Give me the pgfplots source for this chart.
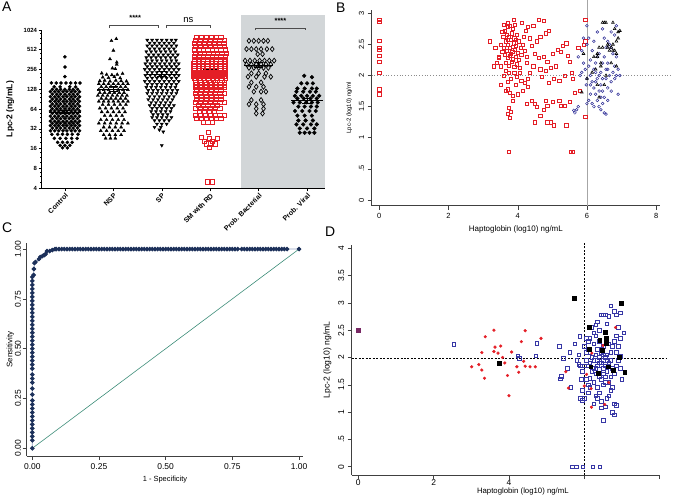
\documentclass[border=0pt]{standalone}
\usepackage{pgfplots}
\pgfplotsset{compat=1.18}
\usepackage{fontspec}
\setmainfont{Liberation Sans}
\definecolor{smred}{RGB}{228,30,38}
\definecolor{bblue}{RGB}{45,45,150}
\definecolor{dblue}{RGB}{55,55,165}
\definecolor{rocnavy}{RGB}{28,48,90}
\definecolor{rocline}{RGB}{150,165,195}
\definecolor{diag}{RGB}{60,140,120}
\definecolor{panelgray}{RGB}{210,214,216}
\definecolor{purp}{RGB}{120,40,100}
\newcommand\fs[1]{\fontsize{#1}{#1}\selectfont}
\pgfplotsset{every axis/.append style={/pgf/number format/assume math mode=true}}
\begin{document}
\begin{tikzpicture}
\useasboundingbox (0bp,0bp) rectangle (673bp,499bp);
\node[anchor=north west,inner sep=0,font=\fs{14}] at (2bp,497bp) {A};
\node[anchor=north west,inner sep=0,font=\fs{14}] at (336bp,496bp) {B};
\node[anchor=north west,inner sep=0,font=\fs{14}] at (2bp,276bp) {C};
\node[anchor=north west,inner sep=0,font=\fs{14}] at (325bp,272bp) {D};

% ---------------- Panel A ----------------
\begin{axis}[at={(41.7bp,310.7bp)},anchor=south west,scale only axis,
  width=283.3bp,height=158.3bp,
  ymode=log,log basis y=2,ymin=4,ymax=1024,xmin=-0.48,xmax=5.37,
  axis lines=left,axis line style={-,line width=0.8pt},axis on top,clip=false,
  ytick={4,8,16,32,64,128,256,512,1024},
  yticklabels={4,8,16,32,64,128,256,512,1024},
  extra y ticks={5,6,7,10,12,14,20,24,28,40,48,56,80,96,112,160,192,224,320,384,448,640,768,896},
  extra y tick labels={},
  extra y tick style={major tick length=1.5bp},
  xtick={0,1,2,3,4,5},
  xticklabels={Control,NSP,SP,SM with RD,Prob. Bacterial,Prob. Viral},
  xticklabel style={rotate=45,anchor=north east,font=\fs{7}\bfseries,inner sep=1pt},
  yticklabel style={font=\fs{6}\bfseries,inner sep=1.5pt},
  tick align=outside,major tick length=3bp,
  tick style={black,line width=0.6pt},
  ylabel={Lpc-2 (ng/mL)},ylabel style={font=\fs{8.5}\bfseries},
]
\fill[panelgray] (axis cs:3.63,4) rectangle (axis cs:5.37,1734);
% Control
\addplot[only marks,mark=*,mark size=1.6,black] coordinates {
(0,400)(0,280)(0,200)
(-0.28,160)(-0.18,160)(-0.08,160)(0.02,160)(0.12,160)(0.22,160)(0.31,160)
(-0.22,140)(-0.1,140)(0.1,140)(0.22,140)
(-0.26,128)(-0.17,128)(-0.09,128)(0,128)(0.09,128)(0.17,128)(0.26,128)
(-0.3,118)(-0.21,118)(-0.13,118)(-0.04,118)(0.04,118)(0.13,118)(0.21,118)(0.3,118)
(-0.26,108)(-0.17,108)(-0.09,108)(0,108)(0.09,108)(0.17,108)(0.26,108)
(-0.3,99)(-0.21,99)(-0.13,99)(-0.04,99)(0.04,99)(0.13,99)(0.21,99)(0.3,99)
(-0.26,91)(-0.17,91)(-0.09,91)(0,91)(0.09,91)(0.17,91)(0.26,91)
(-0.3,84)(-0.21,84)(-0.13,84)(-0.04,84)(0.04,84)(0.13,84)(0.21,84)(0.3,84)
(-0.26,77)(-0.17,77)(-0.09,77)(0,77)(0.09,77)(0.17,77)(0.26,77)
(-0.3,71)(-0.21,71)(-0.13,71)(-0.04,71)(0.04,71)(0.13,71)(0.21,71)(0.3,71)
(-0.26,65)(-0.17,65)(-0.09,65)(0,65)(0.09,65)(0.17,65)(0.26,65)
(-0.3,60)(-0.21,60)(-0.13,60)(-0.04,60)(0.04,60)(0.13,60)(0.21,60)(0.3,60)
(-0.26,55)(-0.17,55)(-0.09,55)(0,55)(0.09,55)(0.17,55)(0.26,55)
(-0.3,50)(-0.21,50)(-0.13,50)(-0.04,50)(0.04,50)(0.13,50)(0.21,50)(0.3,50)
(-0.26,46)(-0.17,46)(-0.09,46)(0,46)(0.09,46)(0.17,46)(0.26,46)
(-0.3,42)(-0.21,42)(-0.13,42)(-0.04,42)(0.04,42)(0.13,42)(0.21,42)(0.3,42)
(-0.26,39)(-0.17,39)(-0.09,39)(0,39)(0.09,39)(0.17,39)(0.26,39)
(-0.3,36)(-0.21,36)(-0.13,36)(-0.04,36)(0.04,36)(0.13,36)(0.21,36)(0.3,36)
(-0.26,33)(-0.17,33)(-0.09,33)(0,33)(0.09,33)(0.17,33)(0.26,33)
(-0.3,30)(-0.21,30)(-0.13,30)(-0.04,30)(0.04,30)(0.13,30)(0.21,30)(0.3,30)
(-0.27,26.5)(-0.15,26.5)(-0.05,26.5)(0.05,26.5)(0.15,26.5)(0.27,26.5)
(-0.22,23)(-0.1,23)(0.02,23)(0.14,23)(0.25,23)
(-0.15,20)(-0.05,20)(0.05,20)(0.15,20)
(-0.1,18)(0,18)(0.1,18)
(-0.05,16.5)(0.05,16.5)
};
% NSP
\addplot[only marks,mark=triangle*,mark size=1.8,black] coordinates {
(1.06,750)(0.96,700)(1.0,500)(0.93,370)(1.07,330)(1.07,305)(0.98,268)(1.04,262)
(0.76,225)(0.86,215)(0.97,212)(1.08,215)(1.19,222)
(0.78,195)(0.9,192)(1.02,198)(1.14,190)
(0.72,172)(0.82,175)(0.93,170)(1.05,175)(1.16,172)(1.27,170)
(0.7,155)(0.8,155)(0.9,155)(1.0,155)(1.1,155)(1.2,155)(1.3,155)
(0.75,140)(0.85,140)(0.95,140)(1.05,140)(1.15,140)(1.25,140)
(0.7,126)(0.8,126)(0.9,126)(1.1,126)(1.2,126)(1.3,126)
(0.72,114)(0.82,114)(0.92,114)(1.02,114)(1.12,114)(1.22,114)
(0.68,103)(0.78,103)(0.88,103)(0.98,103)(1.08,103)(1.18,103)(1.28,103)
(0.75,93)(0.85,93)(0.95,93)(1.05,93)(1.15,93)(1.25,93)
(0.7,84)(0.8,84)(0.9,84)(1.0,84)(1.1,84)(1.2,84)(1.3,84)
(0.78,75)(0.9,75)(1.02,75)(1.14,75)(1.26,75)
(0.72,66)(0.84,66)(0.96,66)(1.08,66)(1.2,66)
(0.76,58)(0.88,58)(1.0,58)(1.12,58)(1.24,58)
(0.82,51)(0.94,51)(1.06,51)(1.18,51)
(0.74,44)(0.86,44)(0.98,44)(1.1,44)(1.22,44)
(0.7,39)(0.82,39)(0.94,39)(1.06,39)(1.18,39)(1.3,39)
(0.8,34)(0.92,34)(1.04,34)(1.16,34)
(0.74,30)(0.86,30)(0.98,30)(1.1,30)(1.22,30)
(0.8,26)(0.92,26)(1.04,26)(1.16,26)
(0.84,23)(0.94,23)(1.04,23)
};
% SP
\addplot[only marks,mark=triangle*,mark size=1.8,black,mark options={rotate=180}] coordinates {
(1.7,720)(1.8,720)(1.9,720)(2.0,720)(2.1,720)(2.2,720)(2.29,720)
(1.75,650)(1.85,650)(1.95,650)(2.05,650)(2.15,650)(2.25,650)
(1.7,590)(1.8,590)(1.9,590)(2.0,590)(2.1,590)(2.2,590)(2.3,590)
(1.75,530)(1.85,530)(1.95,530)(2.05,530)(2.15,530)(2.25,530)
(1.68,480)(1.78,480)(1.88,480)(1.98,480)(2.08,480)(2.18,480)(2.28,480)
(1.73,430)(1.83,430)(1.93,430)(2.03,430)(2.13,430)(2.23,430)(2.33,430)
(1.68,390)(1.78,390)(1.88,390)(1.98,390)(2.08,390)(2.18,390)(2.28,390)
(1.7,350)(1.8,350)(1.9,350)(2.0,350)(2.1,350)(2.2,350)(2.3,350)
(1.66,315)(1.76,315)(1.86,315)(1.96,315)(2.06,315)(2.16,315)(2.26,315)(2.35,315)
(1.7,285)(1.8,285)(1.9,285)(2.0,285)(2.1,285)(2.2,285)(2.3,285)
(1.65,258)(1.75,258)(1.85,258)(1.95,258)(2.05,258)(2.15,258)(2.25,258)(2.35,258)
(1.7,232)(1.8,232)(1.9,232)(2.0,232)(2.1,232)(2.2,232)(2.3,232)
(1.66,210)(1.76,210)(1.86,210)(1.96,210)(2.06,210)(2.16,210)(2.26,210)(2.35,210)
(1.7,190)(1.8,190)(1.9,190)(2.0,190)(2.1,190)(2.2,190)(2.3,190)
(1.65,170)(1.75,170)(1.85,170)(1.95,170)(2.05,170)(2.15,170)(2.25,170)(2.35,170)
(1.7,153)(1.8,153)(1.9,153)(2.0,153)(2.1,153)(2.2,153)(2.3,153)
(1.68,138)(1.78,138)(1.88,138)(1.98,138)(2.08,138)(2.18,138)(2.28,138)
(1.72,124)(1.82,124)(1.92,124)(2.02,124)(2.12,124)(2.22,124)(2.32,124)
(1.7,112)(1.8,112)(1.9,112)(2.0,112)(2.1,112)(2.2,112)(2.3,112)
(1.75,100)(1.85,100)(1.95,100)(2.05,100)(2.15,100)(2.25,100)
(1.72,90)(1.82,90)(1.92,90)(2.02,90)(2.12,90)(2.22,90)
(1.78,81)(1.88,81)(1.98,81)(2.08,81)(2.18,81)
(1.75,73)(1.85,73)(1.95,73)(2.05,73)(2.15,73)(2.25,73)
(1.8,66)(1.9,66)(2.0,66)(2.1,66)(2.2,66)
(1.78,59)(1.88,59)(1.98,59)(2.08,59)(2.18,59)
(1.82,53)(1.92,53)(2.02,53)(2.12,53)
(1.8,48)(1.9,48)(2.0,48)(2.1,48)(2.2,48)
(1.85,43)(1.95,43)(2.05,43)(2.15,43)
(1.9,38)(2.0,38)(2.1,38)
(1.85,34)(1.98,34)(1.95,31)(2.03,29)(2.0,18)
};
% SM with RD
\addplot[only marks,mark=square,mark size=2.1,smred,line width=0.7pt] coordinates {
(2.72,800)(2.82,800)(2.92,800)(3.02,800)(3.12,800)(3.22,800)
(2.7,720)(2.8,720)(2.9,720)(3.0,720)(3.1,720)(3.2,720)(3.3,720)
(2.68,640)(2.78,640)(2.88,640)(2.98,640)(3.08,640)(3.18,640)(3.28,640)
(2.7,570)(2.8,570)(2.9,570)(3.0,570)(3.1,570)(3.2,570)(3.3,570)
(2.68,510)(2.77,510)(2.86,510)(2.95,510)(3.04,510)(3.13,510)(3.22,510)(3.31,510)
(2.7,455)(2.79,455)(2.88,455)(2.97,455)(3.06,455)(3.15,455)(3.24,455)(3.33,455)
(2.68,410)(2.77,410)(2.86,410)(2.95,410)(3.04,410)(3.13,410)(3.22,410)(3.31,410)
(2.67,370)(2.76,370)(2.85,370)(2.94,370)(3.03,370)(3.12,370)(3.21,370)(3.3,370)
(2.68,340)(2.77,340)(2.86,340)(2.95,340)(3.04,340)(3.13,340)(3.22,340)(3.31,340)
(2.66,312)(2.75,312)(2.84,312)(2.93,312)(3.02,312)(3.11,312)(3.2,312)(3.29,312)
(2.68,288)(2.77,288)(2.86,288)(2.95,288)(3.04,288)(3.13,288)(3.22,288)(3.31,288)
(2.66,268)(2.75,268)(2.84,268)(2.93,268)(3.02,268)(3.11,268)(3.2,268)(3.29,268)
(2.68,250)(2.77,250)(2.86,250)(2.95,250)(3.04,250)(3.13,250)(3.22,250)(3.31,250)
(2.66,234)(2.75,234)(2.84,234)(2.93,234)(3.02,234)(3.11,234)(3.2,234)(3.29,234)
(2.68,220)(2.77,220)(2.86,220)(2.95,220)(3.04,220)(3.13,220)(3.22,220)(3.31,220)
(2.66,206)(2.75,206)(2.84,206)(2.93,206)(3.02,206)(3.11,206)(3.2,206)(3.29,206)
(2.68,192)(2.77,192)(2.86,192)(2.95,192)(3.04,192)(3.13,192)(3.22,192)(3.31,192)
(2.7,178)(2.79,178)(2.88,178)(2.97,178)(3.06,178)(3.15,178)(3.24,178)
(2.7,165)(2.8,165)(2.9,165)(3.0,165)(3.1,165)(3.2,165)(3.3,165)
(2.72,150)(2.82,150)(2.92,150)(3.02,150)(3.12,150)(3.22,150)(3.3,150)
(2.7,137)(2.8,137)(2.9,137)(3.0,137)(3.1,137)(3.2,137)(3.3,137)
(2.72,124)(2.82,124)(2.92,124)(3.02,124)(3.12,124)(3.22,124)
(2.7,112)(2.8,112)(2.9,112)(3.0,112)(3.1,112)(3.2,112)(3.3,112)
(2.72,101)(2.82,101)(2.92,101)(3.02,101)(3.12,101)(3.22,101)
(2.72,91)(2.82,91)(2.92,91)(3.02,91)(3.12,91)(3.22,91)
(2.7,82)(2.8,82)(2.9,82)(3.0,82)(3.1,82)(3.2,82)(3.3,82)
(2.75,74)(2.85,74)(2.95,74)(3.05,74)(3.15,74)
(2.7,66)(2.8,66)(2.9,66)(3.0,66)(3.1,66)(3.2,66)
(2.78,59)(2.88,59)(2.98,59)(3.08,59)
(2.7,52)(2.8,52)(2.9,52)(3.0,52)(3.1,52)(3.2,52)(3.3,52)
(2.72,46)(2.82,46)(2.92,46)(3.02,46)(3.12,46)(3.22,46)
(2.85,40)(2.95,40)(3.05,40)
(2.96,28)(2.82,24)(2.98,23)(3.15,23)(2.88,21)(3.05,21)(2.92,19)(3.0,19)(3.1,19)(2.98,17)
(2.94,5)(3.05,5)
};
% Prob. Bacterial
\addplot[only marks,mark=diamond,mark size=2.5,black,line width=0.7pt] coordinates {
(3.8,700)(3.9,700)(4.0,700)(4.1,700)(4.19,700)
(3.75,525)(3.85,525)(3.95,525)(4.05,525)(4.17,525)(4.28,525)
(3.98,440)(4.08,440)
(3.72,350)(3.82,350)(3.92,350)(4.02,350)(4.12,350)(4.22,350)(4.32,350)
(3.75,307)(3.85,307)(3.95,307)(4.05,307)(4.15,307)(4.25,307)
(3.8,272)(3.9,272)(4.0,272)(4.1,272)(4.2,272)
(3.85,224)(4.0,224)(4.15,224)
(3.78,199)(3.95,199)(4.12,199)(4.25,199)
(3.85,163)(4.05,163)
(3.8,140)(3.95,140)(4.1,140)
(3.9,118)(4.05,118)(4.15,118)
(3.85,88)(4.05,88)
(3.8,76)(3.95,76)(4.1,76)
(3.95,65)(4.1,65)
(3.95,55)(4.08,55)
};
% Prob. Viral
\addplot[only marks,mark=*,mark size=1.9,black] coordinates {
(4.94,206)(5.1,196)
(4.88,158)(5.0,158)(5.12,158)
(4.8,132)(4.95,132)(5.1,132)(5.2,132)
(4.78,118)(4.92,118)(5.06,118)(5.18,118)
(4.75,102)(4.88,102)(5.0,102)(5.12,102)(5.25,102)
(4.8,93)(4.93,93)(5.07,93)(5.2,93)
(4.72,81)(4.85,81)(4.98,81)(5.1,81)(5.22,81)
(4.82,70)(4.95,70)(5.08,70)(5.2,70)
(4.75,60)(4.9,60)(5.05,60)(5.18,60)
(4.8,51)(4.95,51)(5.1,51)
(4.82,43)(4.97,43)(5.12,43)
(4.78,37.5)(4.92,37.5)(5.08,37.5)(5.2,37.5)
(4.85,32.5)(5.0,32.5)(5.15,32.5)
(4.85,28)(4.95,28)(5.05,28)(5.15,28)
};
% means and SEM
\addplot[black,line width=0.9pt,unbounded coords=jump] coordinates {
(-0.33,58)(0.33,58)(nan,nan)(-0.1,55)(0.1,55)(nan,nan)(-0.1,62)(0.1,62)(nan,nan)(0,55)(0,62)(nan,nan)
(0.67,129)(1.33,129)(nan,nan)(0.9,118)(1.1,118)(nan,nan)(0.9,143)(1.1,143)(nan,nan)(1,118)(1,143)(nan,nan)
(1.67,218)(2.33,218)(nan,nan)(1.9,200)(2.1,200)(nan,nan)(1.9,240)(2.1,240)(nan,nan)(2,200)(2,240)(nan,nan)
(3.7,300)(4.3,300)(nan,nan)(3.9,275)(4.1,275)(nan,nan)(3.9,330)(4.1,330)(nan,nan)(4,275)(4,330)(nan,nan)
(4.67,86)(5.33,86)(nan,nan)(4.9,79)(5.1,79)(nan,nan)(4.9,94)(5.1,94)(nan,nan)(5,79)(5,94)
};
\addplot[black,line width=1.4pt,unbounded coords=jump] coordinates {
(2.67,245)(3.33,245)(nan,nan)(2.85,232)(3.15,232)(nan,nan)(2.85,258)(3.15,258)(nan,nan)(3,232)(3,258)
};
\draw[black!70,line width=0.5pt] (axis cs:0.92,1090) -- (axis cs:0.92,1190) -- (axis cs:1.93,1190) -- (axis cs:1.93,1090);
\draw[black!70,line width=0.5pt] (axis cs:2.1,1090) -- (axis cs:2.1,1190) -- (axis cs:3.0,1190) -- (axis cs:3.0,1090);
\draw[black!70,line width=0.5pt] (axis cs:3.93,1010) -- (axis cs:3.93,1100) -- (axis cs:4.97,1100) -- (axis cs:4.97,1010);
\node[font=\fs{7.5}\bfseries] at (axis cs:1.45,1560) {****};
\node[font=\fs{9.5}] at (axis cs:2.55,1430) {ns};
\node[font=\fs{7.5}\bfseries] at (axis cs:4.45,1420) {****};
\end{axis}

% ---------------- Panel B ----------------
\begin{axis}[at={(371.7bp,293.3bp)},anchor=south west,scale only axis,
  width=288.3bp,height=195.7bp,
  xmin=-0.22,xmax=8.11,ymin=-0.092,ymax=3.053,
  axis lines=left,axis line style={-,black!75,line width=0.5pt},clip=false,
  xtick={0,2,4,6,8},ytick={0,0.5,1,1.5,2,2.5,3},
  yticklabels={0,.5,1,1.5,2,2.5,3},
  tick align=outside,major tick length=4bp,tick style={black!75,line width=0.5pt},
  ticklabel style={font=\fs{7.5}},
  yticklabel style={rotate=90,anchor=south},
  xlabel={Haptoglobin (log10) ng/mL},xlabel style={font=\fs{8}},
  ylabel={Lpc-2 (log10) ng/ml},ylabel style={font=\fs{6}},
]
\draw[black!45,dotted,line width=0.8pt] (axis cs:-0.22,2) -- (axis cs:8.46,2);
\draw[black!35,line width=0.6pt] (axis cs:6,-0.092) -- (axis cs:6,3.21);
\addplot[only marks,mark=square,mark size=1.6,smred,line width=0.5pt] coordinates {
(0,2.9)(0,2.86)(0,2.56)(0,2.44)(0,2.42)(0,2.32)(0,2.22)(0,2.04)(0,1.78)(0,1.7)
(3.62,2.72)(3.7,2.78)(3.78,2.8)(3.85,2.75)(3.92,2.82)(3.68,2.65)(3.75,2.62)(3.82,2.68)(3.9,2.6)(3.98,2.65)
(3.65,2.55)(3.72,2.5)(3.8,2.57)(3.88,2.52)(3.95,2.48)(4.02,2.55)(3.6,2.45)(3.68,2.4)(3.76,2.44)(3.84,2.38)
(3.92,2.42)(4.0,2.36)(4.08,2.45)(3.63,2.33)(3.7,2.28)(3.78,2.32)(3.86,2.26)(3.94,2.3)(4.02,2.25)(4.1,2.33)
(3.66,2.2)(3.74,2.16)(3.82,2.22)(3.9,2.14)(3.98,2.18)(4.06,2.12)(3.58,2.62)(3.55,2.38)(3.5,2.5)(3.45,2.28)
(3.4,2.2)(3.3,2.15)(3.35,2.45)(3.55,2.7)(3.6,2.82)(3.72,2.85)(3.88,2.9)(3.8,2.35)(3.72,2.58)(3.86,2.46)
(3.95,2.58)(4.15,2.5)(4.18,2.62)(4.2,2.4)(4.25,2.3)(4.22,2.72)(4.12,2.85)(4.3,2.78)(4.35,2.6)(4.4,2.48)
(4.45,2.8)(4.6,2.9)(4.75,2.88)(4.8,2.68)(4.65,2.62)(4.55,2.55)(4.9,2.72)(4.5,2.35)(4.6,2.28)(4.75,2.3)
(4.85,2.22)(5.0,2.35)(5.15,2.42)(5.3,2.48)(5.4,2.52)(5.25,2.38)(5.45,2.32)(5.5,2.22)(5.55,2.05)(5.6,1.95)
(5.1,2.15)(4.95,2.12)(4.8,2.08)(4.65,2.1)(4.45,2.15)(4.35,2.05)(4.25,2.2)(4.3,1.95)(4.2,1.88)(4.3,1.82)
(4.15,1.75)(4.05,2.05)(3.98,1.98)(3.9,2.05)(3.8,1.95)(3.75,2.05)(3.7,1.9)(3.65,2.08)(3.72,1.78)(3.78,1.72)
(3.85,1.68)(3.95,1.85)(4.1,1.92)(4.4,1.6)(4.25,1.55)(4.5,1.55)(4.8,1.6)(4.75,1.45)(4.65,1.35)(4.55,1.5)
(4.85,1.52)(5.0,1.58)(5.2,1.6)(5.25,1.52)(5.35,1.52)(5.5,1.58)(5.65,1.72)(5.8,1.75)(5.95,1.34)(5.95,2.9)
(5.95,2.55)(5.9,2.5)(5.75,2.45)(5.35,2.0)(5.2,1.92)(5.05,1.95)(4.9,1.88)(4.7,1.98)(3.75,1.48)(3.72,1.38)
(3.8,1.42)(3.78,1.32)(3.85,1.6)(4.0,1.7)(4.5,1.25)(4.85,1.25)(4.95,1.25)(5.05,1.2)(5.4,1.2)(3.75,0.78)
(5.52,0.78)(5.6,0.78)(3.2,2.55)(3.45,2.3)(3.5,2.15)(3.6,2.0)(3.5,1.85)(3.65,1.75)
};
\addplot[only marks,mark=o,mark size=1.4,bblue,line width=0.5pt] coordinates {
(5.65,1.4)(5.7,1.45)(5.62,1.44)(5.75,1.5)(5.8,2.0)(5.75,2.3)(5.85,2.4)(5.9,2.2)(5.95,2.1)(6.0,2.5)
(6.05,2.6)(6.0,2.8)(6.1,2.0)(6.15,1.9)(6.2,1.8)(6.25,1.7)(6.3,1.6)(6.2,2.1)(6.25,2.2)(6.3,2.3)
(6.35,2.0)(6.4,1.85)(6.45,1.75)(6.5,1.65)(6.35,1.5)(6.4,1.45)(6.45,1.55)(6.5,1.4)(6.55,1.38)(6.55,2.1)
(6.6,2.2)(6.65,2.0)(6.7,1.9)(6.75,2.05)(6.8,2.15)(6.85,2.3)(6.9,1.7)(6.85,2.0)(6.6,1.8)(6.55,1.95)
(6.1,2.25)(6.15,2.4)(6.2,2.55)(6.3,2.7)(6.45,2.75)(6.5,2.6)(6.6,2.55)(6.7,2.7)(6.85,2.8)(6.8,2.65)
(6.05,1.6)(6.1,1.7)(6.15,1.55)(6.2,1.5)(6.25,1.9)(6.3,1.95)(6.4,2.05)(6.45,2.2)(6.5,2.3)(6.55,2.45)
(6.35,2.35)(6.05,2.15)(6.0,1.95)(5.98,1.85)(6.1,1.85)(6.35,1.75)(6.4,1.65)(6.6,1.6)(6.7,1.75)(6.75,2.35)
(6.7,2.45)(6.65,2.5)(6.0,1.55)(5.9,2.6)(5.85,2.05)(6.25,2.05)(6.45,1.95)(6.6,2.1)(6.8,1.95)(6.95,2.0)
(6.9,2.1)
};
\addplot[only marks,mark=triangle,mark size=1.6,black,line width=0.6pt] coordinates {
(5.85,1.73)(5.9,2.35)(6.0,1.95)(6.15,2.05)(6.2,2.3)(6.25,2.1)(6.3,2.35)(6.35,2.45)(6.4,2.2)(6.45,2.45)
(6.45,2.85)(6.5,2.85)(6.55,2.85)(6.6,2.5)(6.65,2.4)(6.7,2.45)(6.75,2.5)(6.75,2.85)(6.8,2.75)(6.8,2.4)
(6.85,2.55)(6.9,2.6)(6.9,2.7)(6.95,2.72)(6.85,2.35)(6.4,2.15)(6.3,1.85)(6.35,1.65)(6.5,1.85)(6.7,2.2)
(6.55,2.0)(6.3,2.3)(6.6,2.45)(6.75,2.4)(6.85,2.15)
};
\end{axis}

% ---------------- Panel C ----------------
\begin{axis}[at={(26.7bp,43bp)},anchor=south west,scale only axis,
  width=276.6bp,height=212.7bp,
  xmin=-0.021,xmax=1.016,ymin=-0.0386,ymax=1.029,
  axis lines=left,axis line style={-,black!75,line width=0.5pt},clip=false,
  xtick={0,0.25,0.5,0.75,1},xticklabels={0.00,0.25,0.50,0.75,1.00},
  ytick={0,0.25,0.5,0.75,1},yticklabels={0.00,0.25,0.50,0.75,1.00},
  tick align=outside,major tick length=4bp,tick style={black!75,line width=0.5pt},
  ticklabel style={font=\fs{8.5}},
  yticklabel style={rotate=90,anchor=south,inner sep=1.5pt},
  xlabel={1 - Specificity},xlabel style={font=\fs{7.5}},
  ylabel={Sensitivity},ylabel style={font=\fs{8}},ylabel shift=-4bp,
]
\addplot[diag,line width=0.6pt] coordinates {(0,0)(1,1)};
\addplot[rocline,line width=0.8pt,mark=*,mark size=1.9,mark options={draw=rocnavy,fill=rocnavy}] coordinates {
(0,0)(0,0.04)(0,0.06)(0,0.08)(0,0.1)(0,0.12)(0,0.14)(0,0.16)(0,0.18)(0,0.2)(0,0.22)(0,0.24)(0,0.27)
(0,0.3)(0,0.33)(0,0.35)(0,0.37)(0,0.4)(0,0.42)(0,0.44)(0,0.46)(0,0.48)(0,0.5)(0,0.52)(0,0.54)(0,0.56)
(0,0.58)(0,0.6)(0,0.62)(0,0.64)(0,0.66)(0,0.68)(0,0.7)(0,0.72)(0,0.74)(0,0.76)(0,0.78)(0,0.8)(0,0.82)
(0,0.84)(0,0.86)(0.005,0.87)(0.006,0.9)(0.008,0.93)(0.012,0.935)(0.025,0.95)(0.03,0.96)(0.038,0.965)
(0.045,0.97)(0.05,0.975)(0.055,0.99)(0.065,0.99)(0.075,0.995)(0.085,1)
(0.09,1)(0.1,1)(0.11,1)(0.12,1)(0.13,1)(0.14,1)(0.15,1)(0.16,1)(0.17,1)(0.18,1)(0.19,1)(0.2,1)
(0.21,1)(0.22,1)(0.23,1)(0.24,1)(0.25,1)(0.26,1)(0.27,1)(0.28,1)(0.29,1)(0.3,1)(0.31,1)(0.32,1)
(0.33,1)(0.34,1)(0.35,1)(0.36,1)(0.37,1)(0.38,1)(0.39,1)(0.4,1)(0.41,1)(0.42,1)(0.43,1)(0.44,1)
(0.45,1)(0.46,1)(0.47,1)(0.48,1)(0.49,1)(0.5,1)(0.51,1)(0.52,1)(0.53,1)(0.54,1)(0.55,1)(0.56,1)
(0.57,1)(0.58,1)(0.59,1)(0.6,1)(0.61,1)(0.62,1)(0.63,1)(0.64,1)(0.65,1)(0.66,1)(0.67,1)(0.68,1)
(0.69,1)(0.7,1)(0.71,1)(0.72,1)(0.73,1)(0.74,1)(0.75,1)(0.76,1)(0.77,1)
(0.785,1)(0.795,1)(0.805,1)(0.815,1)(0.825,1)(0.835,1)(0.845,1)(0.855,1)(0.865,1)(0.875,1)
(0.885,1)(0.895,1)(0.905,1)(0.915,1)(0.925,1)(0.935,1)(0.945,1)(0.955,1)(1,1)
};
\end{axis}

% ---------------- Panel D ----------------
\begin{axis}[at={(351.7bp,24bp)},anchor=south west,scale only axis,
  width=308.3bp,height=230bp,
  xmin=-0.175,xmax=8.01,ymin=-0.152,ymax=4.06,
  axis lines=left,axis line style={-,black!75,line width=0.5pt},clip=false,
  xtick={0,2,4,6,8},xticklabels={0,2,4,{},{}},
  ytick={0,0.5,1,1.5,2,2.5,3,3.5,4},yticklabels={0,.5,1,1.5,2,2.5,3,3.5,4},
  tick align=outside,major tick length=4bp,tick style={black!75,line width=0.5pt},
  ticklabel style={font=\fs{8.5}},
  xticklabel style={inner sep=0.5pt},
  yticklabel style={rotate=90,anchor=south},
  xlabel={Haptoglobin (log10) ng/mL},xlabel style={font=\fs{7.8},xshift=17bp},xlabel shift=-2bp,
  ylabel={Lpc-2 (log10) ng/mL},ylabel style={font=\fs{8.6}},
]
\draw[black,line width=0.5pt,dash pattern=on 2pt off 1.5pt] (axis cs:-0.175,1.986) -- (axis cs:8.19,1.986);
\draw[black,line width=0.5pt,dash pattern=on 2pt off 1.5pt] (axis cs:6,-0.152) -- (axis cs:6,4.09);
\addplot[only marks,mark=square,mark size=1.8,dblue,line width=0.6pt] coordinates {
(2.53,2.24)(4.23,2.03)(4.28,1.98)(4.74,2.26)(4.71,2.03)(5.33,2.21)(5.44,1.98)(5.39,1.66)(5.37,1.61)
(5.64,1.45)(5.61,2.09)(5.75,2.25)(5.88,2.39)(5.68,0)(5.79,0)(5.96,0)(6.23,0)(6.41,0)(5.55,1.8)
(6.0,2.2)(6.05,2.1)(6.1,2.15)(6.15,2.35)(6.2,2.55)(6.25,2.45)(6.3,2.6)(6.35,2.65)(6.4,2.5)(6.45,2.78)
(6.5,2.78)(6.55,2.78)(6.6,2.62)(6.65,2.75)(6.7,2.95)(6.8,2.85)(6.85,2.78)(6.95,2.82)(6.9,2.55)(6.85,2.4)
(6.95,2.35)(7.05,2.45)(6.8,2.3)(6.75,2.2)(6.7,2.1)(6.65,2.25)(6.6,2.35)(6.55,2.45)(6.5,2.2)(6.45,2.1)
(6.4,2.3)(6.35,2.15)(6.3,2.05)(6.25,1.95)(6.2,2.0)(6.15,1.9)(6.1,1.85)(6.05,1.95)(6.0,1.85)(5.95,1.75)
(5.9,1.85)(5.85,1.88)(5.92,1.6)(5.95,1.4)(5.9,1.25)(5.95,1.22)(6.0,1.25)(6.05,1.6)(6.1,1.5)(6.15,1.62)
(6.2,1.75)(6.25,1.8)(6.3,1.7)(6.35,1.85)(6.4,1.78)(6.45,1.9)(6.5,1.95)(6.55,1.85)(6.6,1.75)(6.65,1.9)
(6.7,1.95)(6.75,1.8)(6.8,1.7)(6.85,1.85)(6.9,1.95)(6.95,1.8)(7.0,1.6)(6.95,2.02)(6.45,1.6)(6.5,1.5)
(6.55,1.55)(6.5,1.7)(6.4,1.65)(6.35,1.45)(6.3,1.3)(6.35,1.25)(6.4,1.35)(6.45,1.2)(6.55,1.1)(6.6,1.25)
(6.65,1.3)(6.7,1.4)(6.75,1.45)(6.8,1.15)(6.85,1.12)(6.75,1.0)(6.8,0.95)(6.5,0.85)(6.45,1.08)(6.25,1.15)
(6.1,1.35)(6.15,1.45)(6.25,1.55)(6.6,2.05)(6.5,2.05)(6.4,2.0)(6.55,2.0)(6.45,2.15)(6.35,1.95)(6.6,1.95)
(6.5,1.8)(6.4,1.9)(6.3,1.8)(6.55,1.65)(6.7,1.65)(6.65,1.55)(6.25,2.25)(6.15,2.1)(6.1,2.3)(6.85,2.1)
(6.9,2.2)(6.3,2.4)(6.05,2.35)(5.8,1.95)(5.85,2.05)
};
\addplot[only marks,mark=square*,mark size=1.8,purp] coordinates {(0,2.5)};
\addplot[only marks,mark=*,mark size=1.4,smred] coordinates {
(3.01,1.83)(3.2,1.87)(3.28,2.09)(3.28,1.77)(3.35,1.62)(3.37,2.38)(3.6,2.5)(3.63,2.19)(3.6,2.11)(3.71,2.08)
(3.78,2.21)(3.83,2.0)(3.89,1.9)(3.96,1.67)(4.0,1.3)(4.07,2.1)(4.21,1.83)(4.26,1.73)(4.33,2.29)(4.39,1.93)
(4.43,2.49)(4.43,1.84)(4.56,1.83)(4.7,1.83)(4.85,2.35)(5.51,1.74)(5.58,1.44)(6.0,1.48)(6.06,1.69)(6.18,1.43)
(6.19,1.09)(6.54,1.14)(6.65,1.54)(6.83,2.55)(6.2,2.08)(6.5,2.22)
};
\addplot[only marks,mark=square*,mark size=1.9,black] coordinates {
(5.73,3.08)(3.74,1.9)(6.12,2.56)(6.13,2.15)(6.17,1.83)(6.41,2.31)(6.48,2.14)(6.55,2.47)(6.58,2.35)(6.59,2.26)
(6.63,1.83)(6.37,1.71)(6.76,1.77)(6.93,2.0)(6.99,3.0)(7.07,1.73)
};
\end{axis}
\end{tikzpicture}
\end{document}
